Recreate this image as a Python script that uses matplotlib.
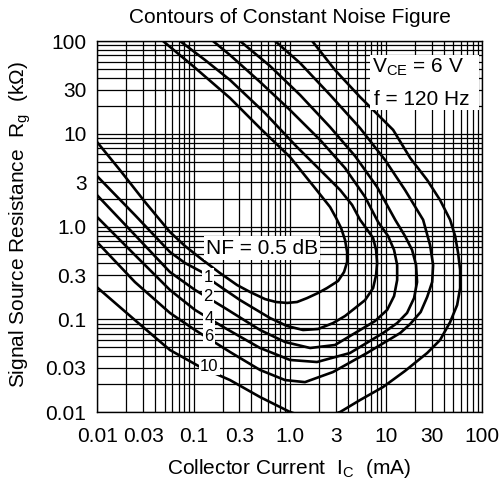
import matplotlib
matplotlib.use("Agg")
import matplotlib.pyplot as plt
from matplotlib.patches import Rectangle
from matplotlib.ticker import FixedLocator, FixedFormatter, LogLocator, NullFormatter

plt.rcParams['font.family'] = ['Liberation Sans', 'DejaVu Sans']
plt.rcParams['mathtext.fontset'] = 'custom'
plt.rcParams['mathtext.rm'] = 'Liberation Sans'
plt.rcParams['mathtext.it'] = 'Liberation Sans:italic'

# Contours: collector current (mA) and source resistance (kOhm)
# each path runs from the left edge, round the bend, and back up to the top edge
ic_05 = [0.0101, 0.0171, 0.0312, 0.0567, 0.0814, 0.117, 0.188, 0.283, 0.386, 0.553,
         0.720, 0.938, 1.19, 1.51, 1.97, 2.44, 3.18, 3.67, 3.95, 3.95, 3.76, 3.42,
         3.03, 2.63, 1.83, 1.007, 0.491, 0.239, 0.0986, 0.048]
rg_05 = [7.94, 4.07, 1.84, 0.873, 0.616, 0.457, 0.315, 0.234, 0.197, 0.165,
         0.1535, 0.150, 0.1535, 0.169, 0.192, 0.217, 0.2585, 0.323, 0.414, 0.531, 0.715, 0.963,
         1.24, 1.62, 2.60, 5.61, 11.5, 24.3, 53.7, 100]

ic_1 = [0.0101, 0.0245, 0.0567, 0.0814, 0.122, 0.167, 0.304, 0.624, 0.938, 1.375, 1.97,
        2.82, 3.76, 4.78, 6.08, 7.36, 7.91, 8.10, 7.91, 7.36, 6.22, 5.39, 4.45, 3.34,
        2.07, 1.19, 0.553, 0.239, 0.1315, 0.0721]
rg_1 = [3.42, 1.33, 0.531, 0.404, 0.323, 0.246, 0.161, 0.103, 0.0846, 0.0766, 0.0785,
        0.091, 0.1084, 0.132, 0.161, 0.217, 0.300, 0.404, 0.558, 0.752, 0.963, 1.18, 1.71, 2.48,
        4.07, 7.19, 16.7, 38.0, 62.4, 100]

ic_2 = [0.0101, 0.0245, 0.0567, 0.1034, 0.212, 0.491, 0.893, 1.63, 2.96, 5.39, 7.72,
        10.3, 12.17, 13.1, 13.1, 12.17, 10.54, 8.29, 6.08, 3.76, 2.07, 1.007, 0.491,
        0.239, 0.159]
rg_2 = [2.13, 0.81, 0.323, 0.207, 0.132, 0.0766, 0.0569, 0.049, 0.0528, 0.0766, 0.0957,
        0.126, 0.178, 0.265, 0.385, 0.558, 0.790, 1.12, 2.08, 4.27, 8.57, 18.0, 36.2,
        70.6, 100]

ic_4 = [0.0101, 0.0245, 0.0567, 0.1034, 0.212, 0.491, 1.007, 1.92, 4.24, 9.35, 13.1,
        16.6, 19.65, 21.1, 20.6, 18.74, 15.8, 12.5, 8.10, 4.78, 2.63, 1.28, 0.624, 0.304]
rg_4 = [1.24, 0.493, 0.207, 0.126, 0.0805, 0.049, 0.0364, 0.0346, 0.0433, 0.0711, 0.091,
        0.117, 0.1694, 0.252, 0.385, 0.558, 0.790, 1.18, 2.67, 5.75, 11.8, 26.2, 53.7, 100]

ic_6 = [0.0101, 0.0245, 0.0567, 0.1034, 0.239, 0.491, 0.893, 1.44, 2.82, 6.37, 14.1,
        17.9, 23.0, 26.9, 30.3, 31.0, 28.8, 24.4, 15.8, 9.81, 5.39, 2.63, 1.28, 0.703]
rg_6 = [0.664, 0.252, 0.117, 0.0766, 0.0444, 0.0284, 0.0221, 0.021, 0.027, 0.0433, 0.0711,
        0.0889, 0.1197, 0.174, 0.252, 0.385, 0.631, 1.18, 2.48, 5.21, 11.5, 26.2, 57.9, 100]

ic_10 = [0.0101, 0.0245, 0.0567, 0.117, 0.239, 0.491, 1.007, 1.83, 3.34, 5.39, 9.35,
         15.8, 26.9, 36.6, 46.6, 55.1, 59.2, 59.2, 56.4, 52.5, 46.6, 36.6, 26.9, 17.9,
         11.9, 5.39, 2.96, 1.71]
rg_10 = [0.217, 0.098, 0.0466, 0.0306, 0.0221, 0.0145, 0.0100, 0.0082, 0.0100, 0.01347, 0.0186,
         0.0277, 0.0433, 0.0597, 0.0933, 0.1424, 0.217, 0.3396, 0.518, 0.790, 1.18, 1.93, 3.17, 5.48,
         11.0, 24.9, 48.6, 100]

curves = [(ic_05, rg_05), (ic_1, rg_1), (ic_2, rg_2), (ic_4, rg_4), (ic_6, rg_6), (ic_10, rg_10)]

# inline labels of the contours
label_text = ['1', '2', '4', '6', '10']
label_ic = [0.141, 0.141, 0.145, 0.145, 0.145]
label_rg = [0.285, 0.174, 0.103, 0.066, 0.0313]

tick_vals = [0.01, 0.03, 0.1, 0.3, 1, 3, 10, 30, 100]
tick_text = ['0.01', '0.03', '0.1', '0.3', '1.0', '3', '10', '30', '100']

fig = plt.figure(figsize=(5.02, 4.82), dpi=100)
ax = fig.add_axes([0.1942, 0.1452, 0.766, 0.7697])
ax.set_xscale('log')
ax.set_yscale('log')
ax.set_xlim(0.01, 100)
ax.set_ylim(0.01, 100)

for ic, rg in curves:
    ax.plot(ic, rg, color='black', lw=1.9, solid_joinstyle='round', zorder=3)

for axis in (ax.xaxis, ax.yaxis):
    axis.set_major_locator(FixedLocator(tick_vals))
    axis.set_major_formatter(FixedFormatter(tick_text))
    axis.set_minor_locator(LogLocator(base=10, subs=range(1, 10), numticks=20))
    axis.set_minor_formatter(NullFormatter())

ax.grid(which='both', color='black', lw=0.9)
ax.set_axisbelow(True)
ax.tick_params(which='both', length=0, labelsize=15)
ax.tick_params(axis='x', pad=11)
ax.tick_params(axis='y', pad=8)
for s in ax.spines.values():
    s.set_linewidth(1.0)

for t, x, y in zip(label_text, label_ic, label_rg):
    ax.text(x, y, t, ha='center', va='center', fontsize=12, zorder=4,
            bbox=dict(boxstyle='square,pad=0.08', fc='white', ec='none'))

ax.text(0.515, 0.586, 'NF = 0.5 dB', ha='center', va='center', fontsize=15, zorder=4,
        bbox=dict(boxstyle='square,pad=0.1', fc='white', ec='none'))

# conditions box, top right
ax.add_patch(Rectangle((0.709, 0.814), 0.283, 0.148, transform=ax.transAxes,
                       fc='white', ec='none', zorder=4))
ax.text(0.714, 0.9137, r'V$_{\mathrm{CE}}$ = 6 V', transform=ax.transAxes,
        ha='left', va='baseline', fontsize=15, zorder=5)
ax.text(0.719, 0.8275, 'f = 120 Hz', transform=ax.transAxes,
        ha='left', va='baseline', fontsize=15, zorder=5)

fig.text(0.578, 0.952, 'Contours of Constant Noise Figure', ha='center', va='baseline',
         fontsize=15)
fig.text(0.576, 0.0166, r'Collector Current  I$_{\mathrm{C}}$  (mA)', ha='center',
         va='baseline', fontsize=15)
fig.text(0.04, 0.535, r'Signal Source Resistance  R$_{\mathrm{g}}$  (kΩ)', ha='center',
         va='center', rotation=90, fontsize=15)

fig.savefig('out.png', dpi=100)
